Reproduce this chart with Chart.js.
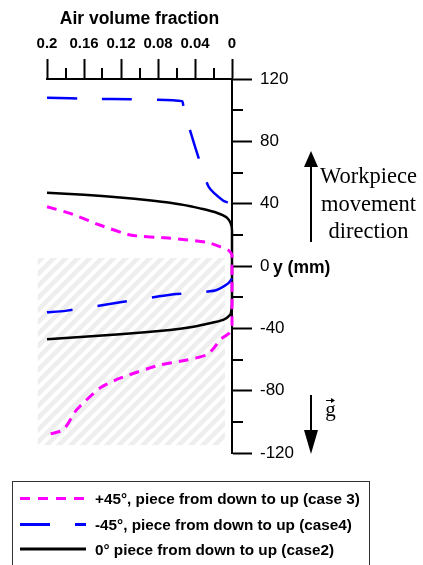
<!DOCTYPE html>
<html>
<head>
<meta charset="utf-8">
<title>Air volume fraction along the workpiece</title>
<script src="https://cdn.jsdelivr.net/npm/chart.js@4.4.1/dist/chart.umd.min.js"></script>
<style>
  html, body { margin: 0; padding: 0; background: #fff; }
  #wrap { position: relative; width: 423px; height: 565px; overflow: hidden; }
  #chart, #notes { position: absolute; left: 0; top: 0; }
  #notes text { fill: #000; }
  .serif { font-family: 'Liberation Serif', 'Times New Roman', serif; font-size: 22.5px; }
  .bold { font-family: 'Liberation Sans', Arial, sans-serif; font-weight: bold; }
</style>
</head>
<body>
<div id="wrap">
  <canvas id="chart" width="423" height="565"></canvas>
  <svg id="notes" width="423" height="565" xmlns="http://www.w3.org/2000/svg">
    <!-- workpiece movement arrow -->
    <line x1="311" y1="242" x2="311" y2="164" stroke="#000" stroke-width="2"/>
    <polygon points="311,151 304,167 318,167" fill="#000"/>
    <text class="serif" x="368.5" y="183" text-anchor="middle">Workpiece</text>
    <text class="serif" x="368.5" y="211" text-anchor="middle">movement</text>
    <text class="serif" x="368.5" y="238" text-anchor="middle">direction</text>
    <!-- gravity arrow -->
    <line x1="311" y1="395" x2="311" y2="434" stroke="#000" stroke-width="2"/>
    <polygon points="311,454 304,430 318,430" fill="#000"/>
    <line x1="326" y1="400.5" x2="333" y2="400.5" stroke="#000" stroke-width="1"/>
    <polygon points="335,400.5 331,398 331,403" fill="#000"/>
    <text class="serif" x="330.5" y="416" text-anchor="middle" style="font-size:21px">g</text>
    <!-- axis name next to the zero tick -->
    <text class="bold" x="273" y="272.5" style="font-size:17.5px">y (mm)</text>
    <g id="legend"></g>
  </svg>
</div>
<script>
(function() {
  'use strict';

  // --- Axis ticks ---
  const xTicks = [0.2, 0.16, 0.12, 0.08, 0.04, 0];
  const xMinor = [0.18, 0.14, 0.1, 0.06, 0.02];
  const yTicks = [-120, -80, -40, 0, 40, 80, 120];
  const yMinor = [-100, -60, -20, 20, 60, 100];

  // --- Profiles: air volume fraction vs y (mm) ---
  // +45°, piece from down to up (case 3)
  const case3Frac = [0.2, 0.175, 0.143, 0.11, 0.067, 0.027, 0.013, 0.004, 0,
                     0, 0.003, 0.013, 0.02, 0.027, 0.05, 0.078, 0.121, 0.143, 0.168, 0.182, 0.2];
  const case3Y    = [38, 33.8, 26.3, 19.9, 17.8, 15.2, 12.4, 10.2, 7,
                     -38, -43, -47.4, -53, -57, -60.5, -63.5, -72, -78.4, -92.3, -105, -108.3];

  // -45°, piece from down to up (case4); null splits upper and lower branch
  const case4Frac = [0.2, 0.15, 0.11, 0.054, 0.0526, 0.0447, 0.0353, 0.0252, 0.0094, 0.002, 0,
                     null, 0, 0.004, 0.0166, 0.033, 0.063, 0.121, 0.18, 0.2];
  const case4Y    = [108, 107.3, 107, 105.8, 102.6, 85.7, 67.9, 50.8, 41.9, 40.2, 39,
                     null, -8, -11.1, -15.4, -16.9, -18.2, -23.3, -28.8, -29.7];

  // 0° piece from down to up (case2)
  const case2Frac = [0.2, 0.16, 0.121, 0.09, 0.067, 0.045, 0.0346, 0.0166, 0.0057, 0.0014, 0,
                     0, 0.0008, 0.002, 0.0094, 0.0274, 0.045, 0.067, 0.121, 0.16, 0.2];
  const case2Y    = [47, 45.8, 44, 42.2, 40.6, 38.4, 37, 34.2, 31.2, 27.4, 23,
                     -24, -29, -31.4, -34.6, -37.2, -39.3, -41, -43.8, -45.4, -47];

  // hatched zone: fraction from / to, y top / bottom
  const hatchZone = [0.21, 0.0076, 5, -115];

  const FONT = "'Liberation Sans', Arial, sans-serif";
  const pairs = (xs, ys) => xs.map((v, i) => ({x: v, y: ys[i]}));

  const datasets = [
    { label: '+45°, piece from down to up (case 3)', data: pairs(case3Frac, case3Y),
      borderColor: '#ff00ff', borderWidth: 3, borderDash: [10, 7] },
    { label: '-45°, piece from down to up (case4)', data: pairs(case4Frac, case4Y),
      borderColor: '#0000ff', borderWidth: 2.5, borderDash: [30, 25] },
    { label: '0° piece from down to up (case2)', data: pairs(case2Frac, case2Y),
      borderColor: '#000000', borderWidth: 2.5, borderDash: [] }
  ].map(d => Object.assign(d, {
    showLine: true, spanGaps: false, pointRadius: 0, fill: false, tension: 0.2, clip: false
  }));

  // --- Hatch pattern ---
  function makeHatch() {
    const s = 12;
    const c = document.createElement('canvas');
    c.width = s; c.height = s;
    const g = c.getContext('2d');
    g.strokeStyle = '#eeeeee';
    g.lineWidth = 4.5;
    g.beginPath();
    g.moveTo(-s, 2 * s); g.lineTo(2 * s, -s);
    g.moveTo(-s, s); g.lineTo(s, -s);
    g.moveTo(0, 2 * s); g.lineTo(2 * s, 0);
    g.stroke();
    return c;
  }

  const extras = {
    id: 'extras',
    beforeDatasetsDraw(chart) {
      const {ctx, scales: {x, y}} = chart;
      const x0 = x.getPixelForValue(hatchZone[0]);
      const x1 = x.getPixelForValue(hatchZone[1]);
      const y0 = y.getPixelForValue(hatchZone[2]);
      const y1 = y.getPixelForValue(hatchZone[3]);
      ctx.save();
      ctx.fillStyle = ctx.createPattern(makeHatch(), 'repeat');
      ctx.fillRect(x0, y0, x1 - x0, y1 - y0);
      ctx.restore();
    },
    afterDraw(chart) {
      // short minor ticks between the labelled ones
      const {ctx, chartArea: area, scales: {x, y}} = chart;
      ctx.save();
      ctx.strokeStyle = '#000';
      ctx.lineWidth = 2;
      ctx.beginPath();
      xMinor.forEach(v => {
        const px = Math.round(x.getPixelForValue(v));
        ctx.moveTo(px, area.top); ctx.lineTo(px, area.top - 11);
      });
      yMinor.forEach(v => {
        const py = Math.round(y.getPixelForValue(v));
        ctx.moveTo(area.right, py); ctx.lineTo(area.right + 11, py);
      });
      ctx.stroke();
      ctx.restore();
    }
  };

  const chart = new Chart(document.getElementById('chart'), {
    type: 'scatter',
    data: { datasets },
    plugins: [extras],
    options: {
      responsive: false,
      animation: false,
      events: [],
      layout: { padding: { left: 47, top: 0, right: 0, bottom: 112 } },
      plugins: { legend: { display: false }, tooltip: { enabled: false } },
      scales: {
        x: {
          type: 'linear', position: 'top', reverse: true, min: 0, max: 0.2,
          afterFit: s => { s.height = 79; },
          afterBuildTicks: s => { s.ticks = xTicks.map(v => ({value: v})); },
          grid: { drawOnChartArea: false, drawTicks: true, tickLength: 20, tickWidth: 2, tickColor: '#000' },
          border: { display: true, color: '#000', width: 2 },
          title: { display: true, text: 'Air volume fraction', color: '#000',
                   font: { family: FONT, size: 17.5, weight: 'bold' }, padding: { top: 9, bottom: 0 } },
          ticks: { color: '#000', padding: 6, maxRotation: 0, autoSkip: false,
                   font: { family: FONT, size: 15, weight: 'bold' }, callback: v => String(v) }
        },
        y: {
          type: 'linear', position: 'right', min: -120, max: 120,
          afterFit: s => { s.width = 191; },
          afterBuildTicks: s => { s.ticks = yTicks.map(v => ({value: v})); },
          grid: { drawOnChartArea: false, drawTicks: true, tickLength: 20, tickWidth: 2, tickColor: '#000' },
          border: { display: true, color: '#000', width: 2 },
          ticks: { color: '#000', padding: 8, autoSkip: false,
                   font: { family: FONT, size: 17 }, callback: v => String(v) }
        }
      }
    }
  });

  // --- Legend, built from the datasets ---
  const NS = 'http://www.w3.org/2000/svg';
  const legend = document.getElementById('legend');
  function el(name, attrs, text) {
    const e = document.createElementNS(NS, name);
    Object.keys(attrs).forEach(k => e.setAttribute(k, attrs[k]));
    if (text) e.textContent = text;
    legend.appendChild(e);
    return e;
  }
  el('rect', { x: 12.5, y: 481.5, width: 357, height: 120, fill: 'none', stroke: '#333', 'stroke-width': 1 });
  const rowY = [498.5, 524.5, 549];
  const sampleDash = ['10 8', '30 25', 'none'];
  chart.data.datasets.forEach((ds, i) => {
    el('line', { x1: 20, x2: 86, y1: rowY[i], y2: rowY[i], stroke: ds.borderColor,
                 'stroke-width': 3, 'stroke-dasharray': sampleDash[i] });
    el('text', { x: 95, y: rowY[i] + 5.5, class: 'bold', style: 'font-size:15.3px' }, ds.label);
  });
})();
</script>
</body>
</html>
